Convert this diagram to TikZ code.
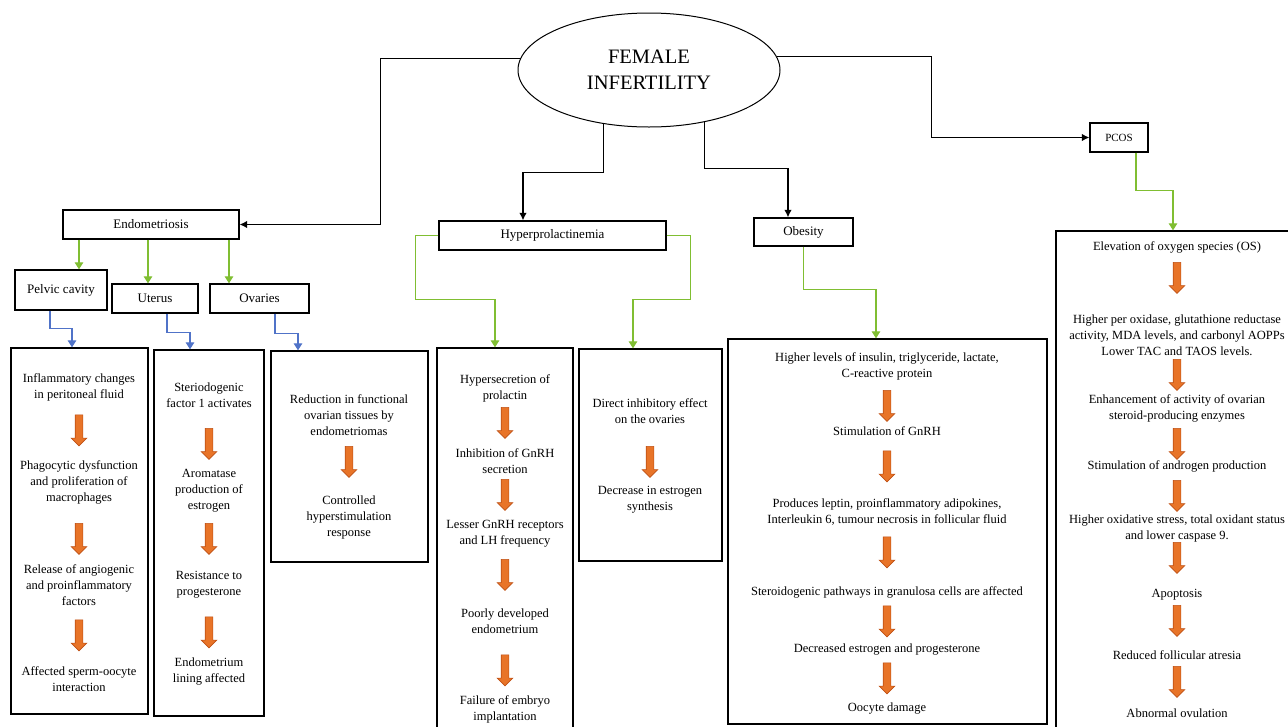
\documentclass[tikz,border=0pt]{standalone}
\usepackage{fontspec}
\setmainfont{Liberation Serif}
\usetikzlibrary{shapes.geometric,shapes.arrows,arrows.meta}
\definecolor{arrowOrange}{RGB}{232,116,40}
\definecolor{arrowEdge}{RGB}{190,80,20}
\definecolor{linkGreen}{RGB}{128,190,50}
\definecolor{linkBlue}{RGB}{80,115,200}

\begin{document}
\begin{tikzpicture}[x=1pt,y=-1pt,
  cause/.style={rectangle,draw,line width=1.3pt,inner sep=0pt,font=\fontsize{13}{15}\selectfont},
  panel/.style={rectangle,draw,line width=1.3pt,inner sep=0pt},
  note/.style={align=center,inner sep=0pt,font=\fontsize{12.5}{16}\selectfont},
  downarrow/.style={single arrow,draw=arrowEdge,fill=arrowOrange,line width=0.6pt,rotate=-90,
    inner sep=0pt,inner ysep=3.5pt,minimum height=31pt,single arrow head extend=4pt,
    single arrow head indent=0pt},
  tolink/.style={line width=1.2pt,-{Latex[length=7.5pt,width=7.5pt]}},
  greenlink/.style={line width=1.2pt,draw=linkGreen,-{Triangle[length=7pt,width=8.5pt]},fill=none},
  bluelink/.style={line width=1.2pt,draw=linkBlue,-{Triangle[length=7pt,width=8.5pt]}}]
\clip (0,0) rectangle (1288,726);

\node[ellipse,draw,line width=1pt,minimum width=262pt,minimum height=114pt,align=center,
  font=\fontsize{20.5}{26}\selectfont] (fi) at (649,70) {FEMALE\\INFERTILITY};

% causes
\node[cause,minimum width=176pt,minimum height=29pt] (endo) at (151,224.5) {Endometriosis};
\node[cause,minimum width=92pt,minimum height=40pt] (pelvic) at (61,290) {Pelvic cavity};
\node[cause,minimum width=86pt,minimum height=29pt] (uterus) at (155,298.5) {Uterus};
\node[cause,minimum width=99pt,minimum height=29pt] (ovaries) at (259.5,298.5) {Ovaries};
\node[cause,minimum width=227pt,minimum height=29pt] (hyper) at (552.5,235.5) {Hyperprolactinemia};
\node[cause,minimum width=99pt,minimum height=28pt] (obes) at (803.5,232) {Obesity};
\node[cause,minimum width=58pt,minimum height=29pt,font=\fontsize{11}{13}\selectfont] (pcos) at (1119,137.5) {PCOS};

% panels
\node[panel,minimum width=137pt,minimum height=366pt] (pbox) at (79.5,531) {};
\node[panel,minimum width=110pt,minimum height=366pt] (ubox) at (209,533) {};
\node[panel,minimum width=157pt,minimum height=211pt] (obox) at (349.5,456.5) {};
\node[panel,minimum width=136pt,minimum height=392pt] (hbox) at (505,544) {};
\node[panel,minimum width=143pt,minimum height=212pt] (dbox) at (650.5,455) {};
\node[panel,minimum width=319pt,minimum height=385pt] (bbox) at (887.5,531.5) {};
\node[panel,minimum width=244pt,minimum height=509pt] (cbox) at (1178,485.5) {};

% pelvic cavity
\node[note] (p1) at (79,387) {Inflammatory changes\\in peritoneal fluid};
\node[note] (p2) at (79,482) {Phagocytic dysfunction\\and proliferation of\\macrophages};
\node[note] (p3) at (79,585) {Release of angiogenic\\and proinflammatory\\factors};
\node[note] (p4) at (79,679) {Affected sperm-oocyte\\interaction};
\foreach \y [count=\i] in {428.5,537,633.5}
  \node[downarrow] (pa\i) at (79,\y) {};

% uterus
\node[note] (u1) at (209,395) {Steriodogenic\\factor 1 activates};
\node[note] (u2) at (209,491) {Aromatase\\production of\\estrogen};
\node[note] (u3) at (209,585) {Resistance to\\progesterone};
\node[note] (u4) at (209,672) {Endometrium\\lining affected};
\foreach \y [count=\i] in {442,537,630.5}
  \node[downarrow] (ua\i) at (209,\y) {};

% ovaries
\node[note] (o1) at (349,415) {Reduction in functional\\ovarian tissues by\\endometriomas};
\node[note] (o2) at (349,517) {Controlled\\hyperstimulation\\response};
\node[downarrow] (oa1) at (349,460) {};

% hyperprolactinemia
\node[note] (h1) at (505,388) {Hypersecretion of\\prolactin};
\node[note] (h2) at (505,461) {Inhibition of GnRH\\secretion};
\node[note] (h3) at (505,534) {Lesser GnRH receptors\\and LH frequency};
\node[note] (h4) at (505,621.5) {Poorly developed\\endometrium};
\node[note] (h5) at (505,709) {Failure of embryo\\implantation};
\foreach \y [count=\i] in {421,493,573,668.5}
  \node[downarrow] (ha\i) at (505,\y) {};

\node[note] (d1) at (650,411.5) {Direct inhibitory effect\\on the ovaries};
\node[note] (d2) at (650,500) {Decrease in estrogen\\synthesis};
\node[downarrow] (da1) at (650,460) {};

% obesity
\node[note] (b1) at (887,366) {Higher levels of insulin, triglyceride, lactate,\\C-reactive protein};
\node[note] (b2) at (887,431) {Stimulation of GnRH};
\node[note] (b3) at (887,512) {Produces leptin, proinflammatory adipokines,\\Interleukin 6, tumour necrosis in follicular fluid};
\node[note] (b4) at (887,592) {Steroidogenic pathways in granulosa cells are affected};
\node[note] (b5) at (887,650) {Decreased estrogen and progesterone};
\node[note] (b6) at (887,709) {Oocyte damage};
\foreach \y [count=\i] in {404,464.5,550.5,619.5,676.5}
  \node[downarrow] (ba\i) at (887,\y) {};

% pcos
\node[note] (c1) at (1177,247) {Elevation of oxygen species (OS)};
\node[note] (c2) at (1177,335) {Higher per oxidase, glutathione reductase\\activity, MDA levels, and carbonyl AOPPs\\Lower TAC and TAOS levels.};
\node[note] (c3) at (1177,408) {Enhancement of activity of ovarian\\steroid-producing enzymes};
\node[note] (c4) at (1177,466) {Stimulation of androgen production};
\node[note] (c5) at (1177,528) {Higher oxidative stress, total oxidant status\\and lower caspase 9.};
\node[note] (c6) at (1177,595) {Apoptosis};
\node[note] (c7) at (1177,655) {Reduced follicular atresia};
\node[note] (c8) at (1177,713) {Abnormal ovulation};
\foreach \y [count=\i] in {276,373,442,494,556,619,680}
  \node[downarrow] (ca\i) at (1177,\y) {};

% links from the top
\draw[tolink] (fi.175) -| ([xshift=141pt]endo.east) -- (endo.east);
\draw[tolink] (fi.6) -| ([xshift=-158pt]pcos.west) -- (pcos.west);
\draw[tolink] (fi.230.6) -- ++(0,48.4) -| ([xshift=-29.5pt]hyper.north);
\draw[tolink] (fi.-43) -- ++(0,46.4) -| ([xshift=-15.5pt]obes.north);

\draw[greenlink] ([xshift=-72pt]endo.south) -- ([xshift=18pt]pelvic.north);
\draw[greenlink] ([xshift=-3pt]endo.south) -- ([xshift=-7pt]uterus.north);
\draw[greenlink] ([xshift=78pt]endo.south) -- ([xshift=-30.5pt]ovaries.north);

\draw[bluelink] ([xshift=-11pt]pelvic.south) -- ++(0,18) -| ([xshift=-7.5pt]pbox.north);
\draw[bluelink] ([xshift=12pt]uterus.south) -- ++(0,19) -| ([xshift=-19pt]ubox.north);
\draw[bluelink] ([xshift=15.5pt]ovaries.south) -- ++(0,20) -| ([xshift=-51.5pt]obox.north);

\draw[greenlink] (hyper.west) -- ++(-23,0) -- ++(0,64) -| ([xshift=-10pt]hbox.north);
\draw[greenlink] (hyper.east) -- ++(24,0) -- ++(0,64) -| ([xshift=-17.5pt]dbox.north);
\draw[greenlink] (obes.south) -- ++(0,43) -| ([xshift=-11.5pt]bbox.north);
\draw[greenlink] ([xshift=17pt]pcos.south) -- ++(0,38) -| ([xshift=-5pt]cbox.north);
\end{tikzpicture}
\end{document}
